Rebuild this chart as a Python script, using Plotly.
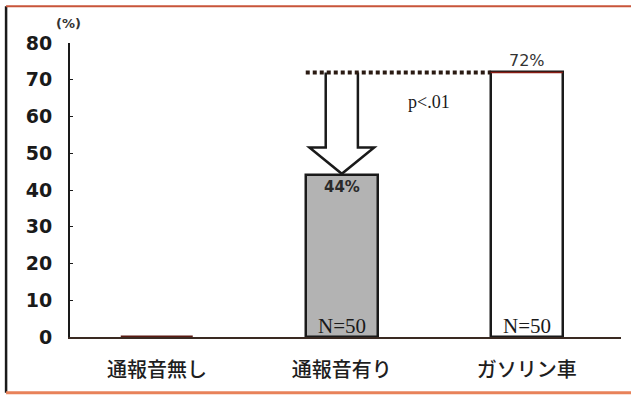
import plotly.graph_objects as go

# Response rate (%) by condition
categories = ["通報音無し", "通報音有り", "ガソリン車"]
rates = [0, 44, 72]
sample_sizes = [None, 50, 50]
y_ticks = [0, 10, 20, 30, 40, 50, 60, 70, 80]
p_label = "p<.01"

xpos = list(range(len(categories)))
bar_w = 0.39
fills = ["#ffffff", "#b3b3b3", "#ffffff"]
edges = ["#5a1a12", "#1a1a1a", "#1a1a1a"]

fig = go.Figure()
fig.add_trace(go.Bar(
    x=xpos, y=rates, width=bar_w,
    marker=dict(color=fills, line=dict(color=edges, width=2.5)),
    showlegend=False, hoverinfo="skip",
))

hi, lo = rates[2], rates[1]

# hollow downward arrow from the reference level to the middle bar
cx = xpos[1]
sw, hw = 0.087, 0.175
base = lo + 0.27 * (hi - lo)
tip = lo + 0.4
arrow = (f"M {cx - sw} {hi} L {cx - sw} {base} L {cx - hw} {base} "
         f"L {cx} {tip} L {cx + hw} {base} L {cx + sw} {base} L {cx + sw} {hi}")
fig.add_shape(type="path", xref="x", yref="y", path=arrow,
              fillcolor="#ffffff", line=dict(color="#1a1a1a", width=2.5))

# dotted reference level from the petrol-car rate across to the middle bar
fig.add_shape(type="line", xref="x", yref="y",
              x0=xpos[1] - bar_w / 2, x1=xpos[2] - bar_w / 2, y0=hi, y1=hi,
              line=dict(color="#2a1a12", width=4, dash="4px,3px"))
fig.add_shape(type="line", xref="x", yref="y",
              x0=xpos[2] - bar_w / 2, x1=xpos[2] + bar_w / 2, y0=hi, y1=hi,
              line=dict(color="#8a1c14", width=1.5))

# value labels
fig.add_annotation(x=xpos[2], y=rates[2], text=f"{rates[2]}%", showarrow=False,
                   yanchor="bottom", yshift=0,
                   font=dict(family="DejaVu Sans", size=16, color="#333333"))
fig.add_annotation(x=xpos[1], y=rates[1], text=f"<b>{rates[1]}%</b>", showarrow=False,
                   yanchor="top", yshift=-1,
                   font=dict(family="DejaVu Sans", size=15, color="#2a2a2a"))
for xi, n in zip(xpos, sample_sizes):
    if n:
        fig.add_annotation(x=xi, y=0, text=f"N={n}", showarrow=False,
                           yanchor="bottom", yshift=-3,
                           font=dict(family="Liberation Serif", size=21, color="#1a1a1a"))
fig.add_annotation(x=1.47, y=64, text=p_label, showarrow=False,
                   font=dict(family="Liberation Serif", size=18, color="#1a1a1a"))
fig.add_annotation(xref="paper", yref="paper", x=-0.003, y=1.0, text="<b>(%)</b>",
                   showarrow=False, xanchor="center", yanchor="bottom", yshift=10,
                   font=dict(family="DejaVu Sans", size=13, color="#333333"))

# outer frame lines
fig.add_shape(type="line", xref="paper", yref="paper", x0=-0.116, x1=-0.116, y0=-0.19, y1=1.125,
              line=dict(color="#1a1a1a", width=2.5))
fig.add_shape(type="line", xref="paper", yref="paper", x0=-0.116, x1=1.02, y0=1.125, y1=1.125,
              line=dict(color="#c8553a", width=2))
fig.add_shape(type="line", xref="paper", yref="paper", x0=-0.116, x1=1.02, y0=-0.19, y1=-0.19,
              line=dict(color="#e8825a", width=3))

fig.update_layout(
    width=631, height=395,
    margin=dict(l=70, r=10, t=43, b=58),
    paper_bgcolor="#ffffff", plot_bgcolor="#ffffff",
    bargap=0,
    xaxis=dict(range=[-0.47, 2.51], tickmode="array", tickvals=xpos, ticktext=categories,
               showgrid=False, zeroline=False, showline=True, linecolor="#3a2a22", linewidth=2,
               ticks="", ticklabelstandoff=14,
               tickfont=dict(family="Noto Sans CJK JP", size=20, color="#1e1e1e", weight=500)),
    yaxis=dict(range=[0, 80], tickmode="array", tickvals=y_ticks,
               showgrid=False, zeroline=False, showline=True, linecolor="#1a1a1a", linewidth=2,
               ticks="inside", ticklen=3, tickcolor="#1a1a1a", ticklabelstandoff=12,
               tickfont=dict(family="DejaVu Sans", size=19, color="#1a1a1a", weight="bold")),
)

fig.write_html("out.html")
